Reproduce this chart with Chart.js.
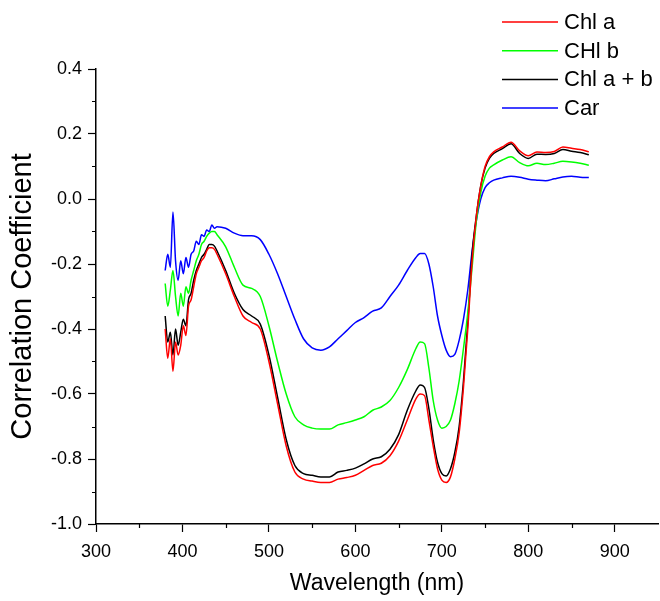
<!DOCTYPE html>
<html>
<head>
<meta charset="utf-8">
<script src="https://cdn.jsdelivr.net/npm/chart.js@4.4.1/dist/chart.umd.min.js"></script>
<style>
  html, body { margin: 0; padding: 0; background: #fff; }
  #chart { display: block; }
</style>
</head>
<body>
<canvas id="chart" width="660" height="601"></canvas>
<script>
// Data ------------------------------------------------------------------------------------

var WAVELENGTHS = [
    380, 383, 386, 389, 392, 395, 398, 401, 404, 407, 410, 413, 416, 419, 422, 425, 428, 431, 434, 437, 440,
    450, 460, 470, 480, 490, 500, 510, 520, 530, 540, 550, 560, 570, 580, 590, 600, 610, 620, 630, 640, 650, 660, 670,
    675, 680, 685, 690, 695, 700, 705, 710, 715, 720, 725, 730, 735, 740, 745, 750, 755, 760,
    770, 780, 790, 800, 810, 820, 830, 840, 850, 860, 870
];

var CHL_A = [
    -0.40, -0.49, -0.43, -0.53, -0.44, -0.48, -0.45, -0.39, -0.42, -0.33, -0.31, -0.27, -0.23, -0.21, -0.19, -0.18, -0.16, -0.15, -0.15, -0.155, -0.17,
    -0.23, -0.30, -0.36, -0.38, -0.40, -0.50, -0.63, -0.76, -0.84, -0.862, -0.868, -0.872, -0.872, -0.862, -0.857, -0.85, -0.835, -0.82, -0.813, -0.79, -0.745, -0.68, -0.615,
    -0.60, -0.605, -0.68, -0.76, -0.83, -0.865, -0.872, -0.855, -0.80, -0.72, -0.58, -0.40, -0.19, -0.05, 0.04, 0.10, 0.13, 0.145,
    0.16, 0.175, 0.148, 0.133, 0.145, 0.143, 0.146, 0.16, 0.156, 0.152, 0.145
];

var CHL_B = [
    -0.26, -0.33, -0.28, -0.22, -0.30, -0.36, -0.29, -0.33, -0.27, -0.29, -0.25, -0.22, -0.19, -0.17, -0.14, -0.13, -0.115, -0.105, -0.10, -0.10, -0.11,
    -0.147, -0.21, -0.265, -0.275, -0.30, -0.39, -0.50, -0.60, -0.67, -0.695, -0.705, -0.708, -0.708, -0.695, -0.688, -0.68, -0.67, -0.65, -0.64, -0.62, -0.58, -0.525, -0.46,
    -0.44, -0.445, -0.52, -0.62, -0.68, -0.705, -0.70, -0.68, -0.63, -0.56, -0.46, -0.35, -0.21, -0.065, 0.02, 0.07, 0.095, 0.105,
    0.12, 0.13, 0.112, 0.102, 0.11, 0.106, 0.11, 0.116, 0.114, 0.11, 0.104
];

var CHL_AB = [
    -0.36, -0.44, -0.41, -0.48, -0.40, -0.45, -0.41, -0.37, -0.39, -0.31, -0.29, -0.25, -0.22, -0.20, -0.18, -0.17, -0.155, -0.14, -0.14, -0.145, -0.16,
    -0.22, -0.29, -0.34, -0.36, -0.385, -0.48, -0.61, -0.74, -0.82, -0.845, -0.85, -0.855, -0.855, -0.84, -0.835, -0.828, -0.815, -0.80, -0.793, -0.77, -0.725, -0.65, -0.59,
    -0.572, -0.58, -0.645, -0.74, -0.81, -0.845, -0.852, -0.83, -0.78, -0.70, -0.56, -0.38, -0.17, -0.05, 0.04, 0.095, 0.125, 0.14,
    0.155, 0.17, 0.14, 0.125, 0.138, 0.137, 0.14, 0.152, 0.147, 0.143, 0.136
];

var CAR = [
    -0.22, -0.17, -0.21, -0.04, -0.19, -0.25, -0.19, -0.23, -0.18, -0.21, -0.17, -0.16, -0.13, -0.14, -0.11, -0.115, -0.095, -0.10, -0.08, -0.09, -0.085,
    -0.09, -0.105, -0.113, -0.113, -0.125, -0.17, -0.23, -0.30, -0.37, -0.43, -0.458, -0.465, -0.455, -0.43, -0.405, -0.38, -0.365, -0.345, -0.335, -0.30, -0.265, -0.22, -0.18,
    -0.168, -0.168, -0.20, -0.27, -0.36, -0.42, -0.465, -0.485, -0.478, -0.435, -0.37, -0.28, -0.16, -0.065, 0.0, 0.035, 0.05, 0.058,
    0.065, 0.07, 0.067, 0.061, 0.058, 0.056, 0.062, 0.068, 0.07, 0.067, 0.066
];

var SERIES_NAMES  = ['Chl a', 'CHl b', 'Chl a + b', 'Car'];
var SERIES_COLORS = ['#ff0000', '#00ff00', '#000000', '#0000ff'];
var SERIES_VALUES = [CHL_A, CHL_B, CHL_AB, CAR];

var X_TICKS = [300, 400, 500, 600, 700, 800, 900];
var Y_TICKS = [-1.0, -0.8, -0.6, -0.4, -0.2, 0.0, 0.2, 0.4];

// Constants -------------------------------------------------------------------------------

var FONT_FAMILY = '"Liberation Sans", Arial, sans-serif';
var LINE_WIDTH = 1.5;

// Functions -------------------------------------------------------------------------------

function toPoints(xs, ys) {
    return xs.map(function (x, i) { return { x: x, y: ys[i] }; });
}

// minor ticks at the half steps, outside the axes
var minorTicks = {
    id: 'minorTicks',
    afterDraw: function (chart) {
        var ctx = chart.ctx;
        var xs = chart.scales.x;
        var ys = chart.scales.y;
        var area = chart.chartArea;
        ctx.save();
        ctx.strokeStyle = '#000';
        ctx.lineWidth = 1.2;
        ctx.beginPath();
        for (var v = 350; v < 950; v += 100) {
            var px = Math.round(xs.getPixelForValue(v)) + 0.5;
            ctx.moveTo(px, area.bottom);
            ctx.lineTo(px, area.bottom + 4);
        }
        for (var k = -9; k <= 3; k += 2) {
            var py = Math.round(ys.getPixelForValue(k / 10)) + 0.5;
            ctx.moveTo(area.left, py);
            ctx.lineTo(area.left - 4, py);
        }
        ctx.stroke();
        ctx.restore();
    }
};

// legend drawn in the top right corner, over the plot
var cornerLegend = {
    id: 'cornerLegend',
    afterDraw: function (chart) {
        var ctx = chart.ctx;
        ctx.save();
        ctx.font = '22px ' + FONT_FAMILY;
        ctx.textBaseline = 'middle';
        ctx.fillStyle = '#000';
        chart.data.datasets.forEach(function (ds, i) {
            var y = 22 + i * 28.7;
            ctx.strokeStyle = ds.borderColor;
            ctx.lineWidth = LINE_WIDTH;
            ctx.beginPath();
            ctx.moveTo(502, y);
            ctx.lineTo(558, y);
            ctx.stroke();
            ctx.fillText(ds.label, 564, y + 1);
        });
        ctx.restore();
    }
};

var datasets = SERIES_NAMES.map(function (name, i) {
    return {
        label: name,
        data: toPoints(WAVELENGTHS, SERIES_VALUES[i]),
        borderColor: SERIES_COLORS[i],
        backgroundColor: SERIES_COLORS[i],
        borderWidth: LINE_WIDTH,
        pointRadius: 0,
        fill: false,
        cubicInterpolationMode: 'monotone'
    };
});

var chart = new Chart(document.getElementById('chart').getContext('2d'), {
    type: 'line',
    data: { datasets: datasets },
    plugins: [minorTicks, cornerLegend],
    options: {
        responsive: false,
        animation: false,
        layout: { padding: { left: 0, top: 69, right: 2, bottom: 0 } },
        plugins: {
            legend: { display: false },
            tooltip: { enabled: false }
        },
        scales: {
            x: {
                type: 'linear',
                min: 300,
                max: 950,
                afterBuildTicks: function (scale) {
                    scale.ticks = X_TICKS.map(function (v) { return { value: v }; });
                },
                afterFit: function (scale) { scale.height = 77; },
                grid: { drawOnChartArea: false, drawTicks: true, tickLength: 8, color: '#000', tickWidth: 1.2 },
                border: { display: true, color: '#000', width: 1.5 },
                ticks: {
                    color: '#000',
                    padding: 9,
                    maxRotation: 0,
                    font: { family: FONT_FAMILY, size: 18 },
                    callback: function (v) { return String(v); }
                },
                title: {
                    display: true,
                    text: 'Wavelength (nm)',
                    color: '#000',
                    font: { family: FONT_FAMILY, size: 23 },
                    padding: { top: 0, bottom: 4 }
                }
            },
            y: {
                min: -1.0,
                max: 0.4,
                afterBuildTicks: function (scale) {
                    scale.ticks = Y_TICKS.map(function (v) { return { value: v }; });
                },
                afterFit: function (scale) { scale.width = 96; },
                grid: { drawOnChartArea: false, drawTicks: true, tickLength: 8, color: '#000', tickWidth: 1.2 },
                border: { display: true, color: '#000', width: 1.5 },
                ticks: {
                    color: '#000',
                    padding: 6,
                    font: { family: FONT_FAMILY, size: 18 },
                    callback: function (v) { return Number(v).toFixed(1); }
                },
                title: {
                    display: true,
                    text: 'Correlation Coefficient',
                    color: '#000',
                    font: { family: FONT_FAMILY, size: 29 },
                    padding: { top: 6, bottom: 0 }
                }
            }
        }
    }
});
</script>
</body>
</html>
